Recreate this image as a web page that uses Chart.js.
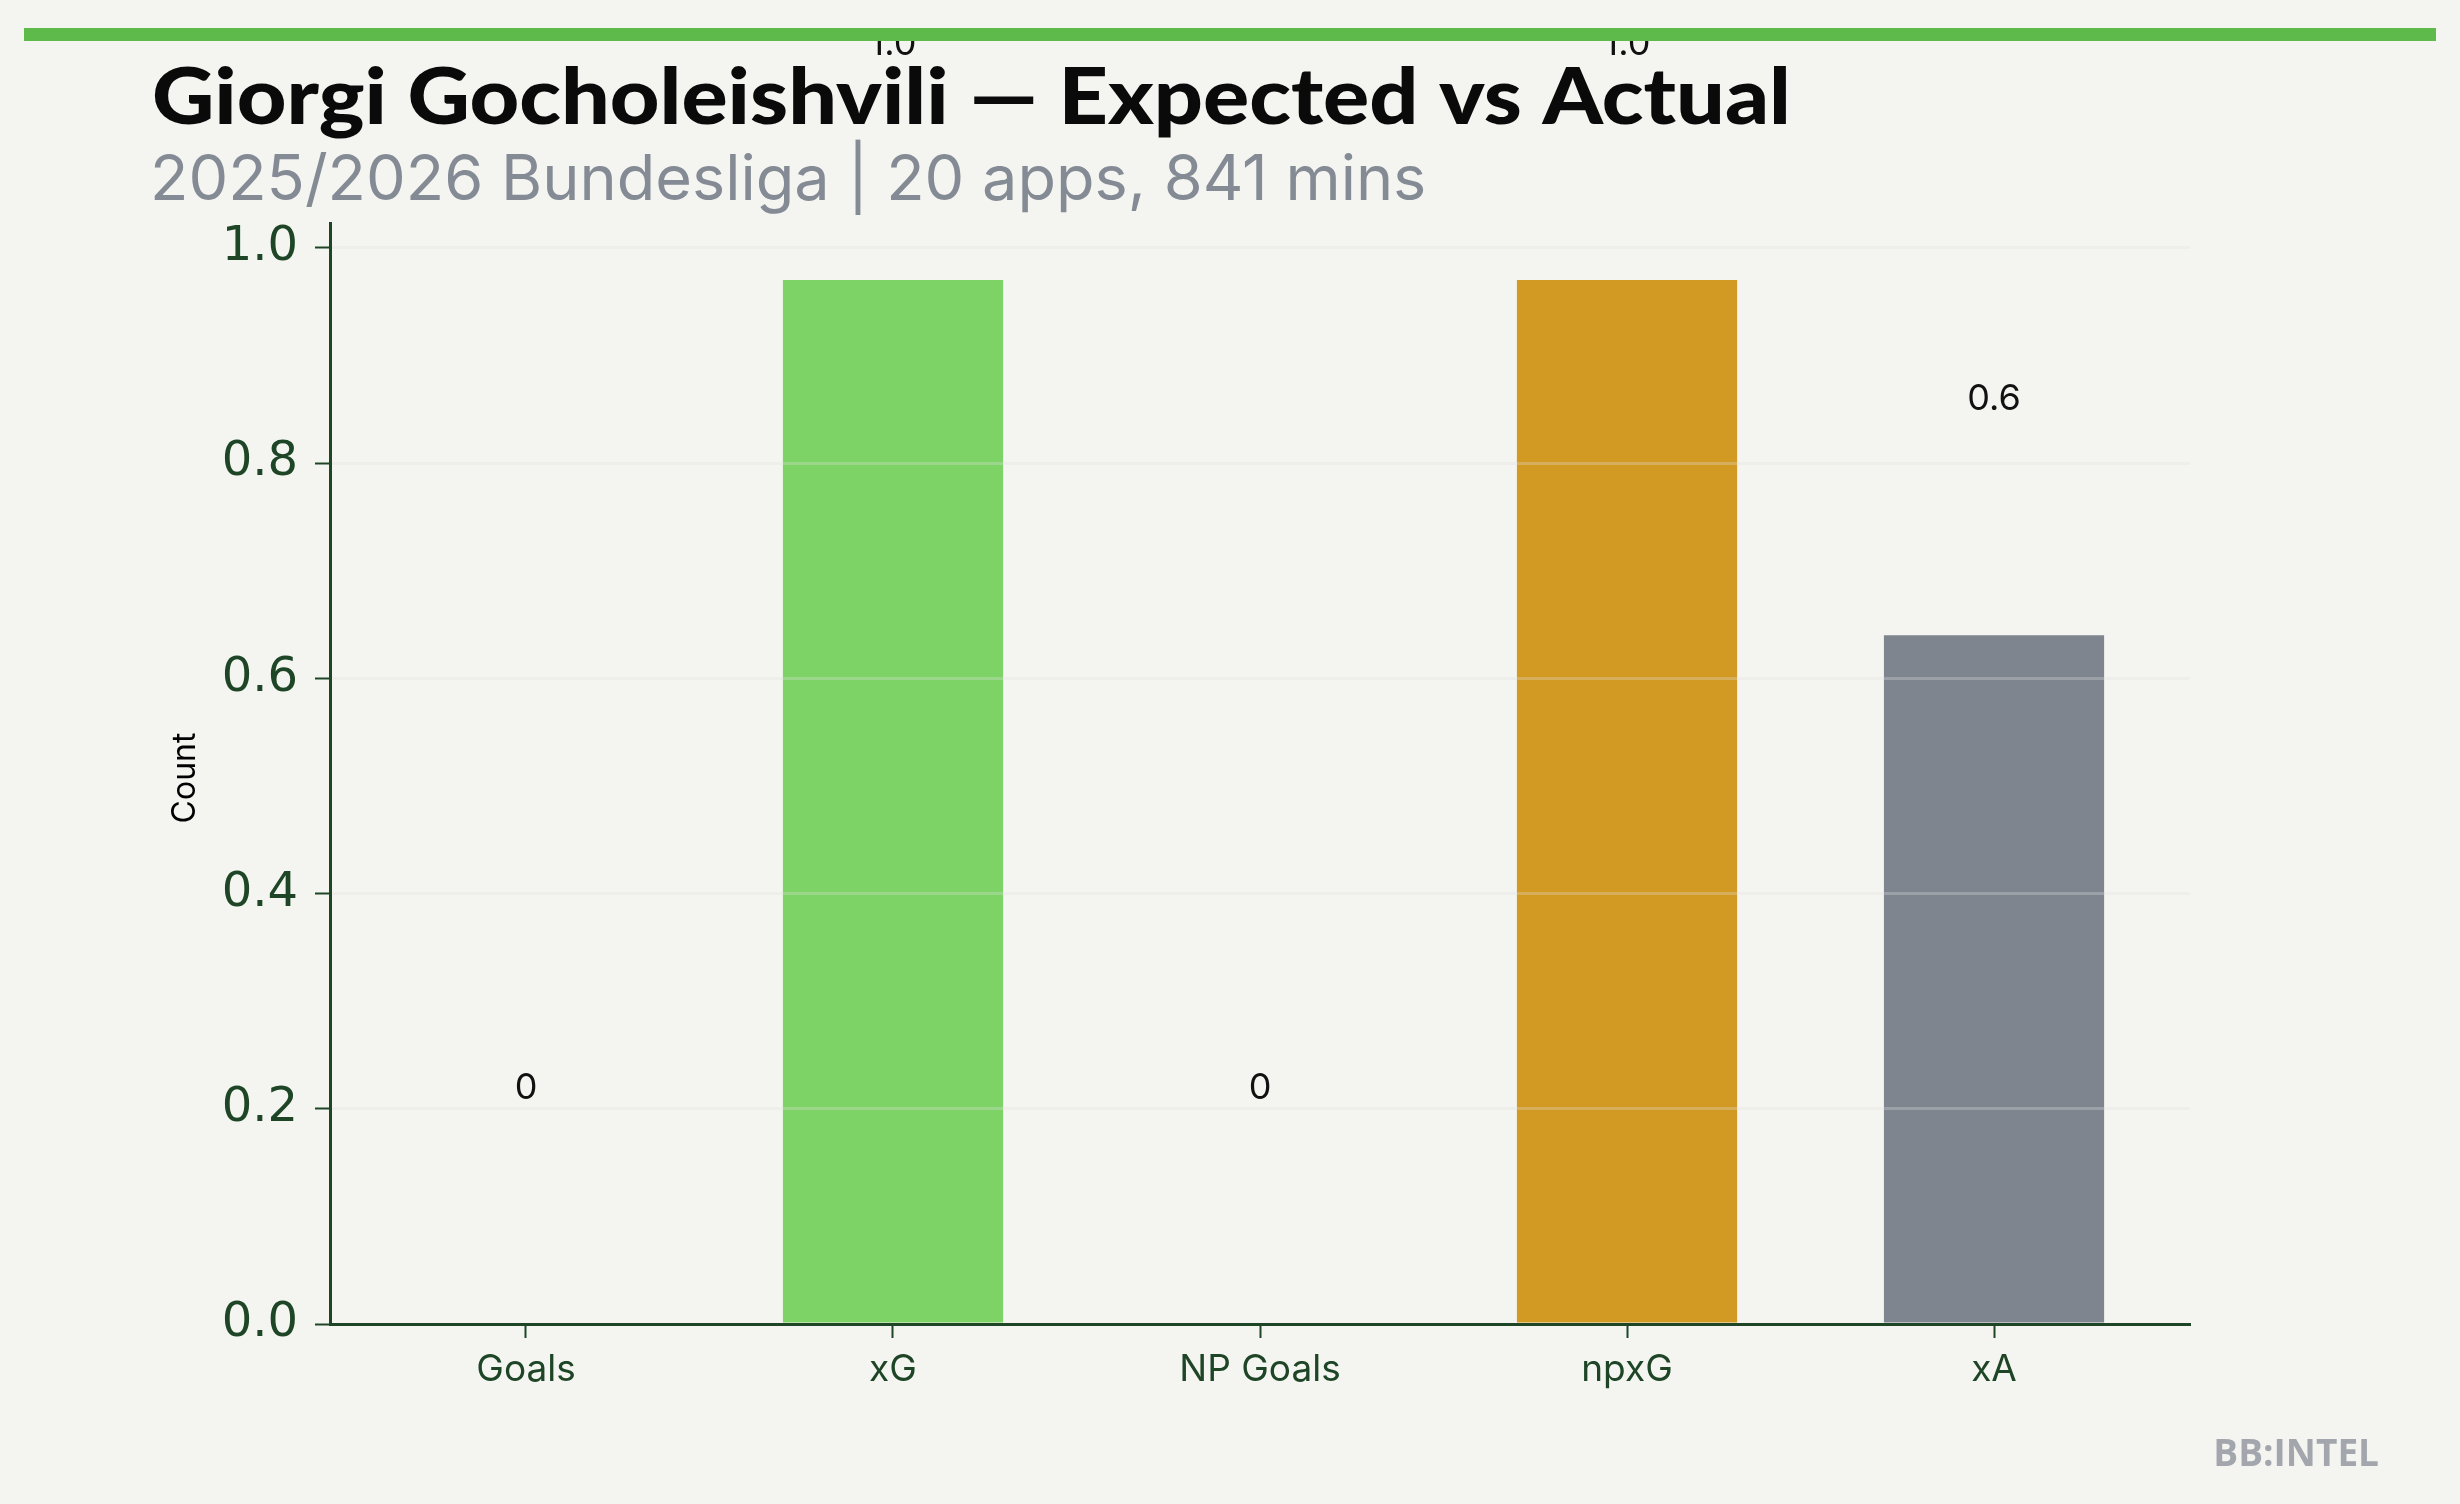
<!DOCTYPE html>
<html>
<head>
<meta charset="utf-8">
<script src="https://cdn.jsdelivr.net/npm/chart.js@4.4.1/dist/chart.umd.min.js"></script>
<style>
  html, body { margin: 0; padding: 0; background: #f4f5f0; }
  #wrap { width: 2460px; height: 1504px; position: relative; }
</style>
</head>
<body>
<div id="wrap"><canvas id="chart"></canvas></div>
<script>
// data
const categories = ["Goals", "xG", "NP Goals", "npxG", "xA"];
const values = [0, 0.97, 0, 0.97, 0.64];
const barColors = ["#7dd365", "#7dd365", "#d29a23", "#d29a23", "#7f858f"];
const yTickStep = 0.2;

const titleText = "Giorgi Gocholeishvili \u2014 Expected vs Actual";
const subtitleText = "2025/2026 Bundesliga | 20 apps, 841 mins";

const inkGreen = "#1d4526";

/**
 * Value labels, header, watermark drawn on the canvas
 */
const decorPlugin = {
  id: "decor",
  beforeDraw(chart) {
    const ctx = chart.ctx;
    ctx.save();
    ctx.fillStyle = "#f4f5f0";
    ctx.fillRect(0, 0, chart.width, chart.height);
    ctx.restore();
  },
  afterDraw(chart) {
    const ctx = chart.ctx;
    const x = chart.scales.x;
    const y = chart.scales.y;
    ctx.save();

    // value labels sit well above each bar
    ctx.font = "36px Inter";
    ctx.fillStyle = "#111111";
    ctx.textAlign = "center";
    ctx.textBaseline = "middle";
    values.forEach((v, i) => {
      const label = v === 0 ? "0" : v.toFixed(1);
      ctx.fillText(label, x.getPixelForValue(i), y.getPixelForValue(v) - 236);
    });

    // accent bar on top
    ctx.fillStyle = "#5dba4b";
    ctx.fillRect(24, 28, 2412, 13);

    // title (slightly stretched, the original face is wider) + subtitle
    ctx.textAlign = "left";
    ctx.textBaseline = "alphabetic";
    ctx.fillStyle = "#0a0a0a";
    ctx.font = "900 78px Lato";
    ctx.save();
    ctx.translate(152, 124);
    ctx.scale(1.105, 1);
    ctx.fillText(titleText, 0, 0);
    ctx.restore();
    ctx.fillStyle = "#858b95";
    ctx.font = "63px Inter";
    ctx.fillText(subtitleText, 150, 200);

    // y axis title
    ctx.save();
    ctx.translate(185, 778);
    ctx.rotate(-Math.PI / 2);
    ctx.textAlign = "center";
    ctx.textBaseline = "middle";
    ctx.fillStyle = "#000000";
    ctx.font = "32px Inter";
    ctx.fillText("Count", 0, 0);
    ctx.restore();

    // watermark
    ctx.textAlign = "right";
    ctx.fillStyle = "#a3a7ad";
    ctx.font = "bold 37px 'Open Sans'";
    ctx.fillText("BB:INTEL", 2379, 1466);

    ctx.restore();
  },
};

const ctx = document.getElementById("chart").getContext("2d");

new Chart(ctx, {
  type: "bar",
  data: {
    datasets: [
      {
        data: values.map((v, i) => ({ x: i, y: v })),
        backgroundColor: barColors,
        borderWidth: 0,
        barPercentage: 1,
        categoryPercentage: 0.6,
      },
    ],
  },
  options: {
    responsive: true,
    maintainAspectRatio: false,
    devicePixelRatio: 1,
    animation: false,
    layout: {
      padding: { top: 223, right: 270, left: 0, bottom: 0 },
    },
    scales: {
      x: {
        type: "linear",
        offset: false,
        min: -0.534,
        max: 4.534,
        afterFit(scale) {
          scale.height = 180;
        },
        ticks: {
          stepSize: 1,
          includeBounds: false,
          autoSkip: false,
          maxRotation: 0,
          padding: 10,
          color: inkGreen,
          font: { family: "Inter", size: 37 },
          callback: (value) => categories[Math.round(value)],
        },
        grid: {
          offset: false,
          drawOnChartArea: false,
          tickLength: 14,
          tickColor: inkGreen,
          tickWidth: 2,
        },
        border: { color: inkGreen, width: 3, z: 2 },
      },
      y: {
        min: 0,
        max: 1.023,
        afterFit(scale) {
          scale.width = 330;
        },
        ticks: {
          stepSize: yTickStep,
          includeBounds: false,
          padding: 17,
          color: inkGreen,
          font: { family: "DejaVu Sans", size: 48 },
          callback: (value) => value.toFixed(1),
        },
        grid: {
          z: 1,
          color: "rgba(225, 225, 225, 0.3)",
          lineWidth: 3,
          tickLength: 15,
          tickColor: inkGreen,
          tickWidth: 2,
        },
        border: { color: inkGreen, width: 3, z: 2 },
      },
    },
    plugins: {
      legend: { display: false },
      tooltip: { enabled: false },
    },
  },
  plugins: [decorPlugin],
});
</script>
</body>
</html>
